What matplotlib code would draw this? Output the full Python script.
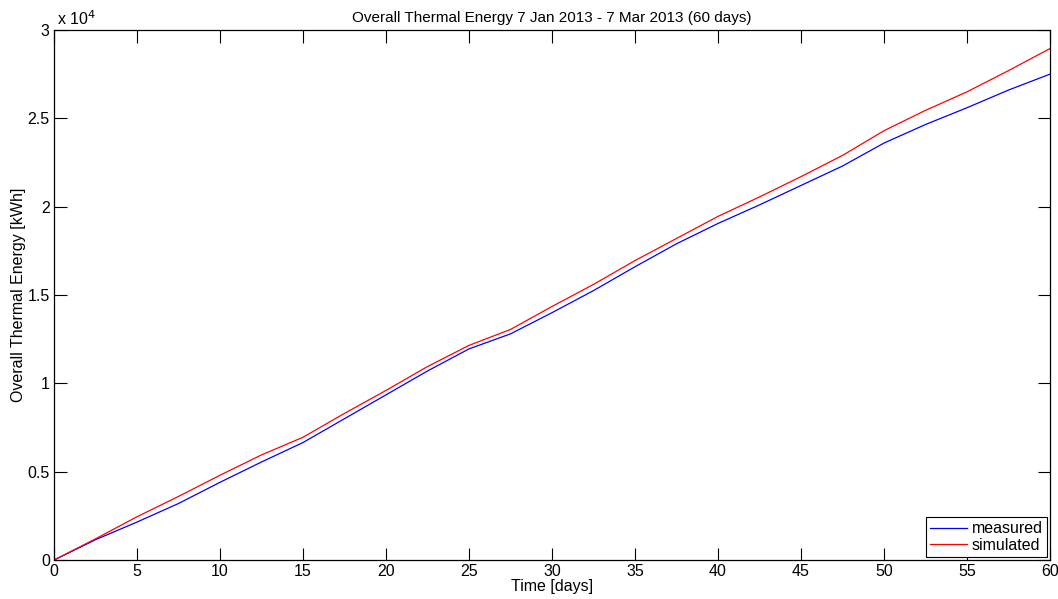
import matplotlib.pyplot as plt
from matplotlib.ticker import FuncFormatter

plt.rcParams['font.family'] = ['Liberation Sans', 'DejaVu Sans']

# time axis [days] and cumulative energy [kWh]
days = [0, 2.5, 5, 7.5, 10, 12.5, 15, 17.5, 20, 22.5, 25, 27.5, 30,
        32.5, 35, 37.5, 40, 42.5, 45, 47.5, 50, 52.5, 55, 57.5, 60]
measured = [0, 1150, 2150, 3200, 4400, 5550, 6650, 8000, 9350, 10700,
            11950, 12800, 14000, 15250, 16600, 17900, 19050, 20100,
            21200, 22300, 23600, 24650, 25600, 26600, 27500]
simulated = [0, 1200, 2450, 3600, 4800, 5950, 6950, 8300, 9600, 10950,
             12150, 13050, 14350, 15600, 16950, 18200, 19450, 20550,
             21700, 22900, 24300, 25450, 26500, 27700, 28950]

fig = plt.figure(figsize=(10.58, 5.99), dpi=100)
ax = fig.add_axes([0.051, 0.065, 0.9415, 0.885])

ax.plot(days, measured, color='#0000ff', lw=0.9, label='measured')
ax.plot(days, simulated, color='#ff0000', lw=0.9, label='simulated')

ax.set_xlim(0, 60)
ax.set_ylim(0, 30000)
ax.set_xticks(range(0, 61, 5))
ax.set_yticks([0, 5000, 10000, 15000, 20000, 25000, 30000])
ax.yaxis.set_major_formatter(FuncFormatter(lambda v, p: '%g' % (v / 1e4)))
ax.tick_params(direction='in', length=9, width=0.8, top=True, right=True,
               labelsize=11.5, pad=3)
for s in ax.spines.values():
    s.set_linewidth(0.9)

ax.text(0.003, 1.003, r'x 10$^{4}$', transform=ax.transAxes, fontsize=11.5,
        ha='left', va='bottom')

ax.set_title('Overall Thermal Energy 7 Jan 2013 - 7 Mar 2013 (60 days)',
             fontsize=11, pad=6)
ax.set_xlabel('Time [days]', fontsize=11.5, labelpad=0)
ax.set_ylabel('Overall Thermal Energy [kWh]', fontsize=11.5, labelpad=1)

leg = ax.legend(loc='lower right', fontsize=11.5, handlelength=2.3,
                handletextpad=0.3, borderpad=0.25, labelspacing=0.1,
                borderaxespad=0.2, fancybox=False, framealpha=1)
leg.get_frame().set_edgecolor('black')
leg.get_frame().set_linewidth(0.8)

fig.savefig('out.png', dpi=100)
